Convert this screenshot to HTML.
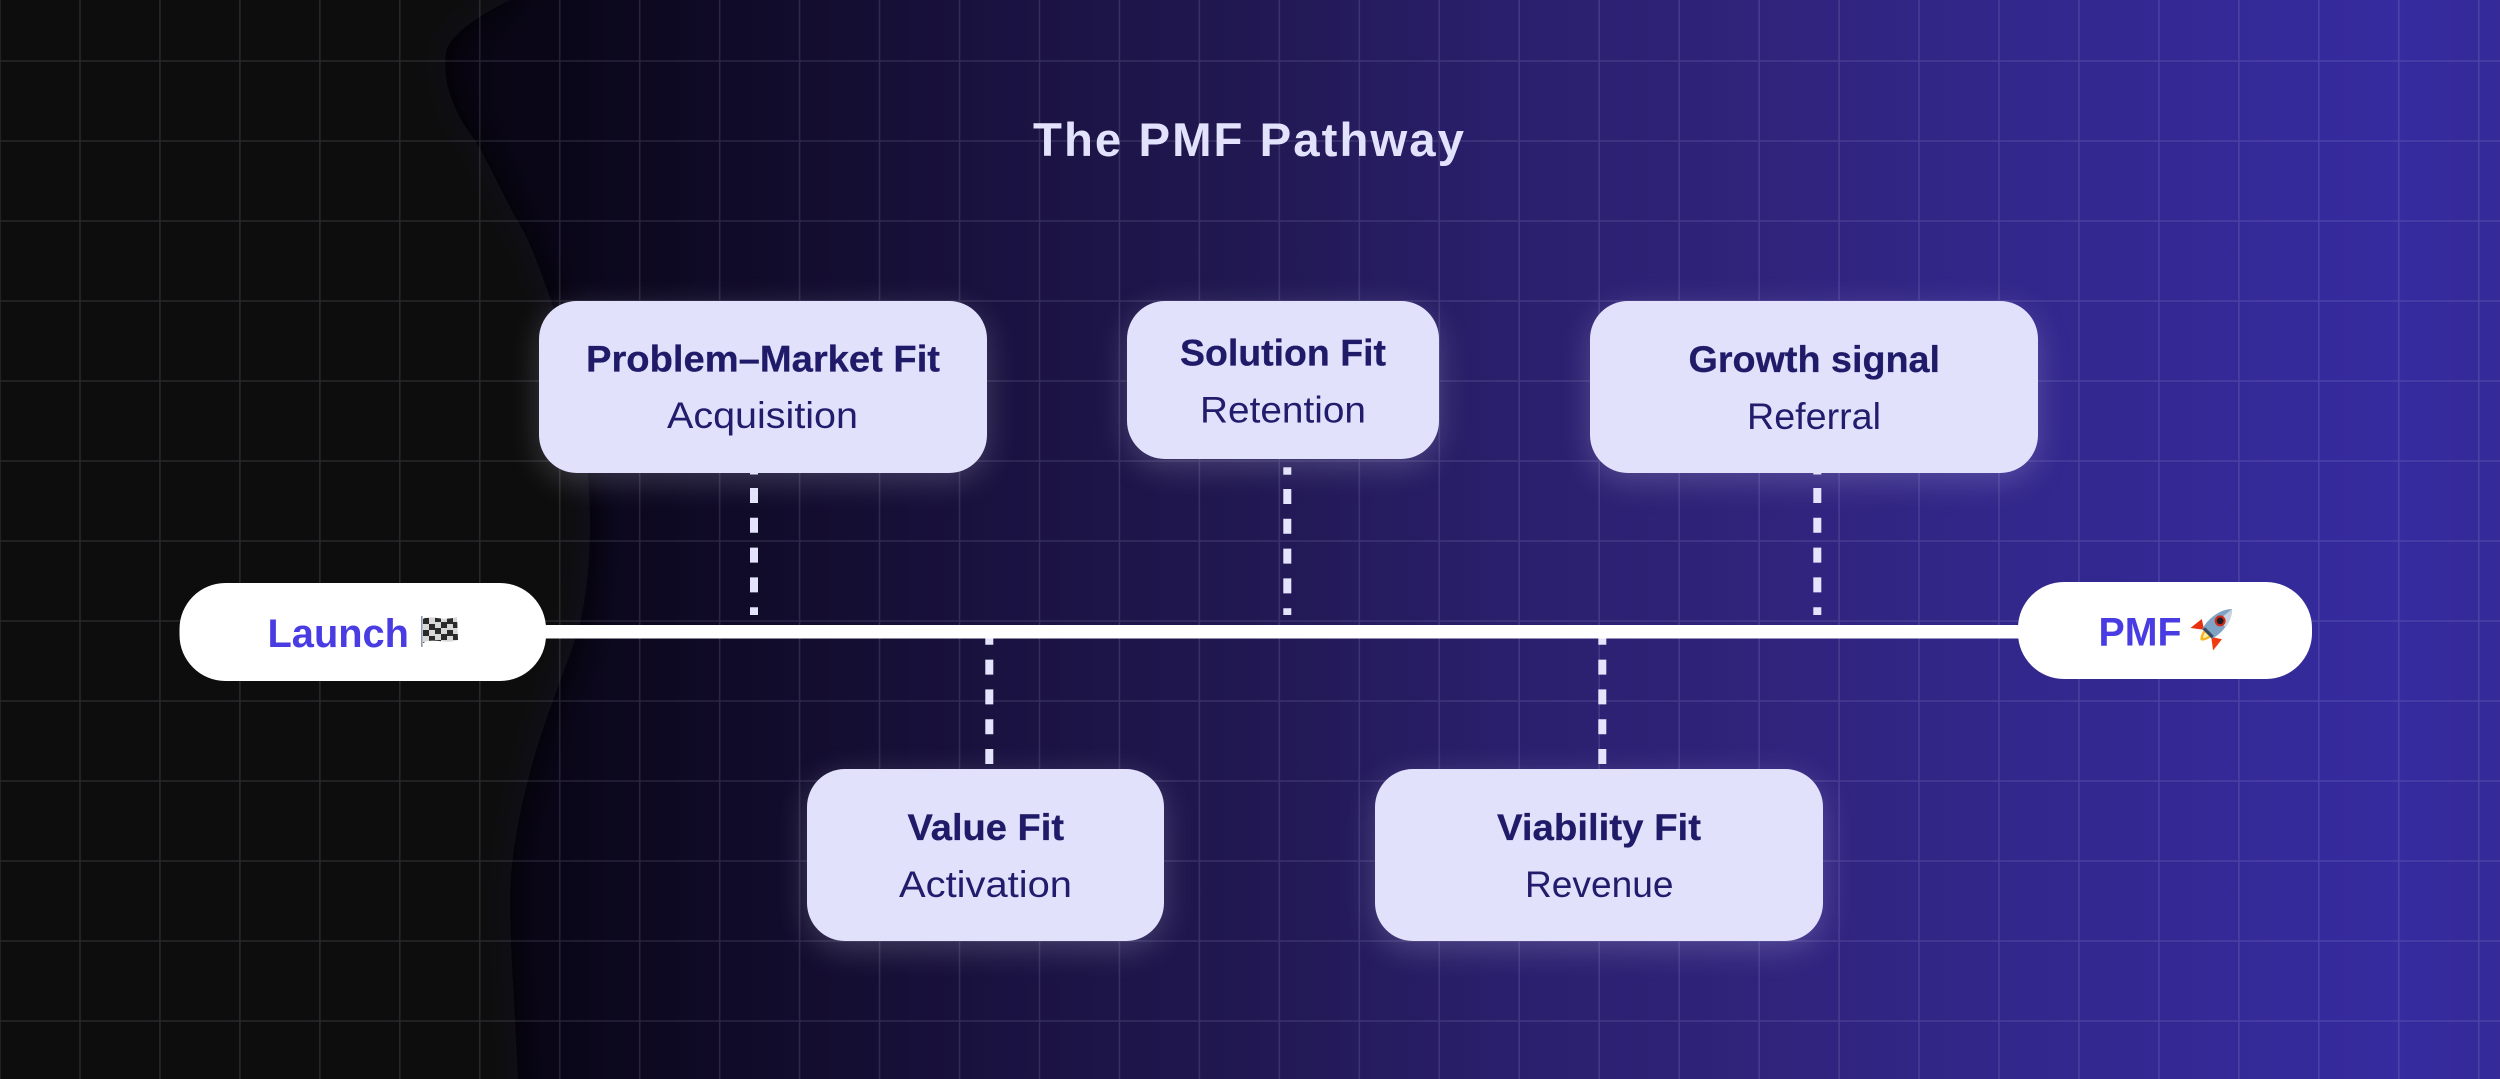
<!DOCTYPE html>
<html lang="en">
<head>
<meta charset="utf-8">
<title>The PMF Pathway</title>
<style>
html,body{margin:0;padding:0;background:#0f0f0f}
#stage{position:relative;width:2500px;height:1079px;overflow:hidden;background:#0f0f0f}
#stage>svg{position:absolute;left:0;top:0}
.box{position:absolute;background:#e1e1fc;border-radius:38px;box-shadow:0 8px 32px rgba(224,224,252,.22)}
text{font-family:"Liberation Sans",Arial,sans-serif;text-anchor:start}
.t{font-weight:700;font-size:47px;letter-spacing:2px;fill:#e2e2fc}
.h{font-weight:700;font-size:37px;fill:#201b69;stroke:#201b69;stroke-width:.3}
.s{font-weight:400;font-size:37px;fill:#211c6b}
.p{font-weight:700;font-size:40px;fill:#483ce2}
</style>
</head>
<body>
<div id="stage">
<svg width="2500" height="1079" viewBox="0 0 2500 1079" xmlns="http://www.w3.org/2000/svg">
<defs>
<linearGradient id="bg" gradientUnits="userSpaceOnUse" x1="400" y1="0" x2="2500" y2="0">
<stop offset="0" stop-color="#08050f"/>
<stop offset=".0714" stop-color="#0a0618"/>
<stop offset=".143" stop-color="#0f0a25"/>
<stop offset=".286" stop-color="#1a1240"/>
<stop offset=".405" stop-color="#211852"/>
<stop offset=".524" stop-color="#2a1f6c"/>
<stop offset=".667" stop-color="#30247e"/>
<stop offset=".81" stop-color="#332890"/>
<stop offset=".952" stop-color="#362b9f"/>
<stop offset="1" stop-color="#352a98"/>
</linearGradient>
<filter id="soft" x="-10%" y="-10%" width="120%" height="120%"><feGaussianBlur stdDeviation="18"/></filter>
<clipPath id="flagclip"><path d="M423 619 C432 614 440 622 457 617 L458 640 C445 645 433 637 423 643 Z"/></clipPath>
</defs>
<rect width="2500" height="1079" fill="url(#bg)"/>
<path filter="url(#soft)" fill="#0f0f0f" d="M-50 -50 L530 -50 L510 0 C470 20 444 40 444 60 C444 85 455 115 475 140 C490 165 505 200 520 225 C535 250 550 300 565 340 C580 390 590 470 590 520 C590 570 585 610 575 640 C565 670 540 730 528 780 C515 830 510 870 510 900 C510 950 515 1000 520 1130 L-50 1130 Z"/>
<path fill="none" stroke="rgba(224,224,252,.13)" stroke-width="1.6" d="M0 0V1079M79.96 0V1079M159.92 0V1079M239.88 0V1079M319.84 0V1079M399.8 0V1079M479.76 0V1079M559.72 0V1079M639.68 0V1079M719.64 0V1079M799.6 0V1079M879.56 0V1079M959.52 0V1079M1039.48 0V1079M1119.44 0V1079M1199.4 0V1079M1279.36 0V1079M1359.32 0V1079M1439.28 0V1079M1519.24 0V1079M1599.2 0V1079M1679.16 0V1079M1759.12 0V1079M1839.08 0V1079M1919.04 0V1079M1999 0V1079M2078.96 0V1079M2158.92 0V1079M2238.88 0V1079M2318.84 0V1079M2398.8 0V1079M2478.76 0V1079M0 61H2500M0 141H2500M0 221H2500M0 301H2500M0 381H2500M0 461H2500M0 541H2500M0 621H2500M0 701H2500M0 781H2500M0 861H2500M0 941H2500M0 1021H2500"/>
<g fill="none" stroke="#e4e4fc" stroke-width="8" stroke-dasharray="15 14.8">
<path d="M754 488V615"/>
<path d="M1287.3 489V615"/>
<path d="M1817.3 488V615"/>
<path d="M989.3 764V638"/>
<path d="M1602.3 764V638"/>
</g>
<g fill="#e4e4fc">
<rect x="1283.3" y="467.3" width="8" height="7.4"/>
<rect x="750" y="470" width="8" height="4.5"/>
<rect x="1813.3" y="470" width="8" height="4.5"/>
</g>
</svg>

<div class="box" style="left:539px;top:301px;width:448px;height:172px"></div>
<div class="box" style="left:1127px;top:301px;width:312px;height:158px"></div>
<div class="box" style="left:1590px;top:301px;width:448px;height:172px"></div>
<div class="box" style="left:807px;top:769px;width:357px;height:172px"></div>
<div class="box" style="left:1375px;top:769px;width:448px;height:172px"></div>

<svg width="2500" height="1079" viewBox="0 0 2500 1079" xmlns="http://www.w3.org/2000/svg">
<rect x="530" y="625" width="1500" height="13.5" fill="#fff"/>
<rect x="179.5" y="583" width="366.5" height="98" rx="46" fill="#fff"/>
<rect x="2018" y="582" width="294" height="97" rx="46" fill="#fff"/>

<text class="t" x="1033" y="156" textLength="433" lengthAdjust="spacingAndGlyphs">The PMF Pathway</text>

<text class="h" x="586" y="371.5" textLength="354" lengthAdjust="spacingAndGlyphs">Problem–Market Fit</text>
<text class="s" x="667" y="428" textLength="191" lengthAdjust="spacingAndGlyphs">Acquisition</text>
<text class="h" x="1180" y="365.5" textLength="206" lengthAdjust="spacingAndGlyphs">Solution Fit</text>
<text class="s" x="1200" y="422.5" textLength="166" lengthAdjust="spacingAndGlyphs">Retention</text>
<text class="h" x="1688.5" y="372" textLength="251.5" lengthAdjust="spacingAndGlyphs">Growth signal</text>
<text class="s" x="1747" y="429" textLength="134" lengthAdjust="spacingAndGlyphs">Referral</text>
<text class="h" x="907.5" y="840" textLength="156.5" lengthAdjust="spacingAndGlyphs">Value Fit</text>
<text class="s" x="899" y="897" textLength="173" lengthAdjust="spacingAndGlyphs">Activation</text>
<text class="h" x="1497" y="840" textLength="204" lengthAdjust="spacingAndGlyphs">Viability Fit</text>
<text class="s" x="1525" y="897" textLength="148.5" lengthAdjust="spacingAndGlyphs">Revenue</text>

<text class="p" x="267.5" y="647" textLength="141.5" lengthAdjust="spacingAndGlyphs">Launch</text>
<text class="p" x="2098.5" y="645.5" textLength="83" lengthAdjust="spacingAndGlyphs">PMF</text>

<!-- checkered flag icon -->
<rect x="421" y="616" width="1.6" height="31" fill="#8a97a8"/>
<g clip-path="url(#flagclip)">
<rect x="420" y="610" width="40" height="38" fill="#d8d8d8"/>
<path fill="#2a2a2a" d="M423 618h6v6h-6zM435 616h6v6h-6zM447 618h6v6h-6zM429 624h6v6h-6zM441 622h6v6h-6zM453 622h6v6h-6zM423 630h6v6h-6zM435 628h6v6h-6zM447 630h6v6h-6zM429 636h6v6h-6zM441 634h6v6h-6zM453 634h6v6h-6zM423 642h6v6h-6zM435 640h6v6h-6z"/>
</g>

<!-- rocket icon -->
<g transform="translate(2216 625) rotate(45) scale(.84)">
<path d="M-6 14 L-19 24 L-17 7 Z" fill="#e8300f"/>
<path d="M6 14 L19 24 L17 7 Z" fill="#f03a12"/>
<path d="M-6 15 Q0 36 6 15 Z" fill="#fbb41f"/>
<path d="M-3 15 Q0 28 3 15 Z" fill="#fff0a0"/>
<path d="M0 -27 C11 -16 12 4 8 15 L-8 15 C-12 4 -11 -16 0 -27 Z" fill="#7fa3c4"/>
<path d="M0 -27 C6 -21 9 -14 10 -6 L-2 -6 Z" fill="#c5d4df"/>
<path d="M-8 15 L8 15 L7 11 L-7 11 Z" fill="#3b4a5c"/>
<circle cx="0" cy="-7" r="6.5" fill="#d2271a"/>
<circle cx="0" cy="-7" r="4" fill="#1b1b22"/>
</g>
</svg>
</div>
</body>
</html>
